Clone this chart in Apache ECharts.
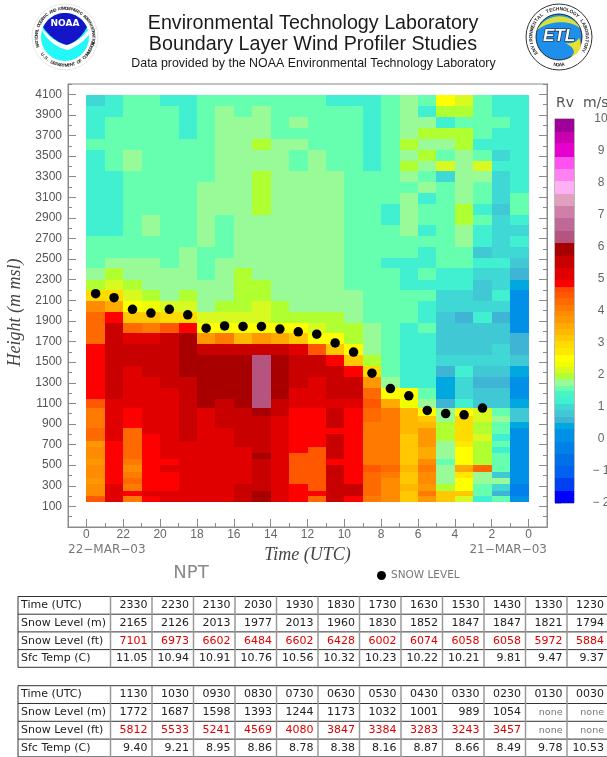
<!DOCTYPE html>
<html>
<head>
<meta charset="utf-8">
<style>html,body{margin:0;padding:0;background:#fff}#c{width:607px;height:757px}</style>
<script src="https://cdn.jsdelivr.net/npm/echarts@6/dist/echarts.min.js"></script>
</head>
<body>
<div id="c"></div>
<script>
// ---- table / snow level data (most recent hour first) ----
const timeUTC = ['2330','2230','2130','2030','1930','1830','1730','1630','1530','1430','1330','1230',
                 '1130','1030','0930','0830','0730','0630','0530','0430','0330','0230','0130','0030'];
const snowLevelM = [2165,2126,2013,1977,2013,1960,1830,1852,1847,1847,1821,1794,
                    1772,1687,1598,1393,1244,1173,1032,1001,989,1054,'none','none'];
const snowLevelFt = [7101,6973,6602,6484,6602,6428,6002,6074,6058,6058,5972,5884,
                     5812,5533,5241,4569,4080,3847,3384,3283,3243,3457,'none','none'];
const sfcTempC = ['11.05','10.94','10.91','10.76','10.56','10.32','10.23','10.22','10.21','9.81','9.47','9.37',
                  '9.40','9.21','8.95','8.86','8.78','8.38','8.16','8.87','8.66','8.49','9.78','10.53'];

// ---- colour scale ----
const rvBounds = [-2,-1.61,-1.22,-0.85,-0.47,-0.08,0.3,0.49,0.7,0.9,1.08,1.3,1.5,1.67,1.88,2.05,2.25,2.42,2.63,2.85,3.05,3.25,3.44,3.63,3.83,4.0,4.2,4.4,4.6,4.76,4.97,5.35,5.73,6.11,6.5,6.9,7.28,7.66,8.06,8.44,8.82,9.24,9.6,10];
const rvColors = ['#0000ff','#0040f0','#0060f0','#0070e8','#0080e8','#0090e8','#00a8e0','#40b4d4','#40c8d4','#40d8d4','#40f0d0','#48f4c4','#66ffb0','#98fb98','#b0ff30','#d8fa20','#f0ff00','#ffff00','#ffe800','#ffdc00','#ffc800','#ffb800','#ffaa00','#ff9800','#ff8c00','#ff7a00','#ff6a00','#ff5800','#ff4a00','#ff0000','#e00000','#c80000','#a80000','#b5547f','#c06898','#d080a8','#e0a0c0','#ffb0f5','#ff80f0','#ff50f0','#e600d0','#c800b0','#a0009a'];

// ---- profiler gates: heights (m msl), edges of each row, top to bottom ----
const gateEdges = [4093,3989,3880,3770,3666,3560,3453,3351,3246,3139,3032,2929,2827,2728,2621,2514,2411,2298,2200,2094,1990,1883,1780,1673,1567,1466,1359,1252,1147,1052,977,919,858,800,730,674,615,560,502,431,373,314,252,201,143];

// ---- radial velocity Rv (m/s), one row per gate, one column per hour ----
const rvRows = [
[1.0,1.2,1.6,1.6,1.2,1.2,1.6,1.6,1.6,1.6,1.6,1.6,1.6,1.2,1.2,1.2,1.6,1.8,1.6,2.5,2.2,1.6,1.2,1.2],
[1.2,1.2,1.6,1.6,1.6,1.2,1.6,1.8,1.6,1.8,1.6,1.6,1.6,1.6,1.6,1.2,1.6,1.8,1.2,2.0,2.0,1.6,1.2,1.2],
[1.2,1.6,1.6,1.6,1.6,1.2,1.6,1.8,1.8,1.8,1.6,1.8,1.6,1.6,1.6,1.2,1.6,1.8,1.8,1.2,1.6,1.6,1.6,1.2],
[1.2,1.6,1.6,1.6,1.6,1.2,1.6,1.8,1.8,1.8,1.6,1.6,1.6,1.6,1.6,1.2,1.6,1.8,2.0,2.0,2.0,1.6,1.2,1.2],
[1.6,1.6,1.6,1.6,1.6,1.6,1.6,1.8,1.8,2.0,1.8,1.8,1.6,1.6,1.6,1.2,1.6,2.0,1.8,1.8,2.0,1.2,1.2,1.2],
[1.2,1.6,1.8,1.6,1.6,1.6,1.6,1.8,1.8,1.8,1.8,1.6,1.8,1.6,1.6,1.2,1.6,1.8,2.0,1.6,1.8,1.6,1.0,1.2],
[1.2,1.6,1.8,1.6,1.6,1.6,1.6,1.8,1.8,1.8,1.8,1.6,1.8,1.6,1.6,1.2,1.6,2.0,1.8,2.2,1.8,2.2,1.2,1.2],
[1.2,1.2,1.6,1.6,1.6,1.6,1.6,1.8,1.8,2.0,1.8,1.8,1.8,1.8,1.6,1.6,1.6,1.8,1.6,1.0,1.8,1.8,1.0,1.2],
[1.2,1.2,1.6,1.6,1.6,1.6,1.8,1.8,1.8,2.0,1.8,1.8,1.8,1.8,1.6,1.6,1.6,1.6,1.8,1.6,1.8,1.6,1.0,1.2],
[1.2,1.2,1.6,1.6,1.6,1.6,1.8,1.8,1.8,2.0,1.8,1.8,1.8,1.8,1.6,1.6,1.6,1.8,1.2,1.6,1.8,1.6,1.0,1.6],
[1.2,1.2,1.6,1.6,1.6,1.6,1.8,1.8,1.8,2.0,1.8,1.8,1.8,1.8,1.6,1.6,1.2,1.8,1.6,1.6,2.0,1.2,0.8,1.6],
[1.2,1.2,1.6,1.8,1.6,1.6,1.8,1.6,1.8,1.8,1.8,1.8,1.8,1.8,1.6,1.6,1.2,1.8,1.6,1.6,2.0,1.6,1.0,1.2],
[1.2,1.2,1.6,1.8,1.6,1.6,1.8,1.6,1.8,1.8,1.8,1.8,1.8,1.8,1.6,1.6,1.6,1.8,1.2,1.6,1.8,1.2,1.0,1.0],
[1.6,1.6,1.6,1.6,1.6,1.6,1.8,1.6,1.8,1.8,1.8,1.8,1.8,1.8,1.6,1.6,1.6,1.6,1.6,1.6,1.8,1.2,1.0,1.2],
[1.6,1.6,1.6,1.6,1.6,1.8,1.6,1.6,1.8,1.8,1.8,1.8,1.8,1.8,1.6,1.6,1.6,1.6,1.2,1.6,1.6,0.8,1.0,1.0],
[1.6,1.8,1.8,1.8,1.6,1.8,1.6,1.8,1.8,1.8,1.8,1.8,1.8,1.8,1.6,1.6,1.2,1.2,1.2,1.6,1.6,1.2,1.2,0.8],
[1.8,2.0,1.8,1.8,1.8,1.8,1.6,1.8,2.0,1.8,1.8,1.8,1.8,1.8,1.6,1.6,1.6,1.2,1.6,1.2,1.2,1.0,1.0,0.6],
[2.0,2.2,2.0,1.8,1.8,1.8,1.8,1.8,2.0,2.0,1.8,1.8,1.8,1.8,1.6,1.6,1.6,1.2,1.2,1.2,1.2,0.8,1.0,0.4],
[3.0,3.0,2.2,2.0,1.8,2.0,1.8,1.8,2.0,2.0,1.8,1.8,1.8,1.8,1.8,1.6,1.6,1.6,1.6,1.0,1.0,0.8,1.2,0.1],
[3.9,3.5,2.5,2.3,2.2,2.2,1.8,2.0,2.0,2.2,2.0,1.8,1.8,1.8,1.8,1.6,1.6,1.6,1.2,1.0,1.0,1.0,1.0,0.1],
[4.3,4.9,3.2,3.2,3.0,3.0,2.2,2.2,2.2,2.2,2.0,2.0,2.0,2.0,1.8,1.6,1.6,1.6,1.2,0.8,0.6,1.2,0.6,0.1],
[4.3,5.5,4.3,4.1,4.5,4.9,2.5,2.5,2.5,2.5,2.5,2.5,2.2,2.0,2.0,1.8,1.6,1.2,1.6,0.8,0.8,0.8,0.8,0.1],
[4.3,5.5,5.2,5.2,5.5,5.9,3.7,4.1,3.4,3.7,3.5,3.2,2.5,2.5,2.0,1.8,1.6,1.2,1.2,0.8,0.8,0.8,0.8,0.6],
[4.9,5.5,5.5,5.5,5.5,5.9,5.5,5.5,5.5,5.5,5.5,5.2,4.5,3.2,2.5,1.8,1.6,1.2,1.2,0.8,0.8,0.8,1.0,0.6],
[4.9,5.5,5.5,5.5,5.5,5.9,5.9,5.9,5.9,6.3,5.9,5.5,5.5,4.9,3.2,2.0,1.6,1.2,1.2,1.0,1.0,1.0,1.0,0.8],
[4.9,5.5,5.2,5.5,5.5,5.9,5.9,5.9,5.9,6.3,5.9,5.5,5.5,5.5,4.9,3.0,1.6,1.2,1.2,0.6,1.2,0.8,0.8,0.4],
[4.9,5.5,5.2,5.2,5.5,5.5,5.9,5.9,5.9,6.3,5.9,5.5,5.2,5.5,5.5,3.7,1.8,1.2,1.2,0.4,1.0,0.6,0.6,0.1],
[4.9,5.5,5.2,5.2,5.2,5.5,5.9,5.9,5.9,6.3,5.9,5.2,5.2,5.5,5.5,4.3,2.5,2.5,1.6,0.4,1.0,0.8,0.8,0.1],
[4.5,5.2,5.2,5.2,5.2,5.5,5.9,5.5,5.9,6.3,5.5,5.2,5.2,5.2,5.2,4.5,3.5,2.3,1.8,0.6,1.2,0.8,0.8,0.4],
[4.1,5.2,4.9,5.2,5.2,5.5,5.2,5.5,5.5,5.9,5.5,4.9,4.9,5.5,4.9,4.3,4.1,3.4,2.5,1.8,2.5,2.2,1.6,0.8],
[4.1,5.2,4.9,5.2,5.2,5.5,5.2,5.5,5.5,5.5,5.2,4.9,4.9,5.5,4.9,4.3,4.1,3.4,3.2,1.8,3.0,2.2,1.8,0.8],
[4.1,5.2,4.9,5.2,5.2,5.5,5.2,5.5,5.5,5.5,5.2,4.9,4.9,5.5,4.9,4.1,4.1,3.4,3.4,2.0,3.0,2.0,1.6,0.4],
[4.3,5.2,4.3,5.2,5.2,5.5,5.2,5.2,5.5,5.5,5.2,4.9,4.9,4.9,4.9,4.1,4.1,3.4,3.7,2.0,3.0,2.0,1.6,0.1],
[4.3,5.2,4.3,4.9,5.2,5.5,5.2,5.2,5.5,5.5,5.2,4.9,4.9,5.5,4.9,4.1,4.1,3.2,3.7,2.0,3.0,2.2,1.2,0.1],
[3.7,4.9,4.3,4.9,5.2,5.2,5.2,5.2,5.5,5.5,5.2,4.9,4.9,5.5,4.9,4.1,4.1,3.2,3.7,1.8,2.7,2.0,1.6,0.1],
[3.9,4.9,4.3,4.9,5.2,5.2,5.2,5.2,5.2,5.5,5.2,4.9,4.5,5.5,4.9,4.1,4.1,3.2,3.5,1.8,2.5,2.0,1.2,0.1],
[3.9,4.9,4.3,4.9,5.2,5.2,5.2,5.2,5.2,5.9,5.2,4.5,4.5,5.5,4.9,4.1,4.1,3.2,3.5,1.8,2.5,2.0,1.6,0.1],
[3.7,4.9,4.1,4.9,4.9,5.2,5.2,5.2,5.2,5.5,5.2,4.5,4.5,4.9,4.9,4.1,4.1,3.2,3.9,1.6,2.5,2.0,1.6,0.1],
[3.9,4.9,3.9,4.9,5.2,5.2,5.2,5.2,5.2,5.5,5.2,4.5,4.5,5.5,4.9,4.5,4.3,3.4,4.1,1.8,3.5,4.3,1.6,0.1],
[3.9,4.9,4.1,4.9,4.9,5.2,5.2,5.2,5.2,5.5,5.2,4.5,4.5,5.5,4.9,4.3,4.1,3.2,3.9,1.8,2.7,1.8,0.8,0.1],
[3.7,4.9,4.3,4.9,4.9,5.2,5.2,5.2,5.2,5.5,5.2,4.5,4.5,5.5,4.9,4.3,3.9,3.2,3.9,1.8,2.5,1.8,1.8,0.1],
[3.9,5.2,4.1,4.9,4.9,5.2,5.2,5.2,5.5,5.5,5.2,4.9,4.5,5.5,5.5,4.3,3.9,3.4,3.7,2.0,2.5,1.6,1.0,-0.3],
[3.9,5.2,4.9,5.2,5.2,5.2,5.2,5.2,5.5,5.9,5.2,4.9,4.9,5.5,5.5,4.3,3.9,3.2,4.1,3.2,3.2,1.6,0.6,-0.3],
[4.5,5.2,4.1,4.9,5.2,5.2,5.2,5.2,5.5,5.9,5.2,4.9,4.3,5.5,4.9,4.1,3.9,3.2,3.7,3.2,2.2,1.2,1.6,0.1]
];

// ---- axis tick labels ----
const heightLabels = [];
for (let h = 100; h <= 4100; h += 200) heightLabels.push(h);
const hourTicks = [0,2,4,6,8,10,12,14,16,18,20,22,24];
const hourLabels = ['0','22','20','18','16','14','12','10','8','6','4','2','0'];
const rvTicks = [-2,-1,0,1,2,3,4,5,6,7,8,9,10];
const tableRowNames = ['Time (UTC)','Snow Level (m)','Snow Level (ft)','Sfc Temp (C)'];

// ---- helpers ----
function rvColor(v){
  for (let i = 0; i < rvColors.length; i++) if (v < rvBounds[i+1]) return rvColors[i];
  return rvColors[rvColors.length-1];
}
const heatData = [];
rvRows.forEach((row,r)=>row.forEach((v,c)=>heatData.push([c,gateEdges[r],gateEdges[r+1],v])));
const snowData = [];
snowLevelM.forEach((m,i)=>{ if (typeof m === 'number') snowData.push([i+0.5,m]); });
const barData = rvColors.map((c,i)=>[rvBounds[i],rvBounds[i+1],c]);

const axisGray='#8a8a8a';
const sans='"Liberation Sans",Arial,sans-serif', dj='"DejaVu Sans",sans-serif', serif='"Liberation Serif",serif';

function yAx(pos,major){
  const a={type:'value',gridIndex:0,min:-100,max:4200,position:pos,interval:100,splitLine:{show:false},
    axisLine:{show:true,onZero:false,lineStyle:{color:axisGray,width:1}},
    axisTick:{show:true,inside:true,length:major?8:4,lineStyle:{color:axisGray}},axisLabel:{show:false}};
  if(major) a.axisTick.customValues=heightLabels;
  return a;
}
function xAx(major){
  const a={type:'value',gridIndex:0,min:-1,max:25,position:'bottom',interval:1,splitLine:{show:false},
    axisLine:{show:true,onZero:false,lineStyle:{color:axisGray,width:1}},
    axisTick:{show:true,inside:true,length:major?8:4,lineStyle:{color:axisGray}},axisLabel:{show:false}};
  if(major) a.axisTick.customValues=hourTicks;
  return a;
}
const y0=yAx('left',true);
y0.axisLabel={show:true,customValues:heightLabels,margin:6,color:'#555',fontFamily:sans,fontSize:12,formatter:v=>String(v)};
y0.name='Height (m msl)'; y0.nameLocation='middle'; y0.nameGap=37; y0.nameRotate=90;
y0.nameTextStyle={fontFamily:serif,fontStyle:'italic',fontSize:18,color:'#444',letterSpacing:1.3,padding:[0,14,0,0]};
const x0=xAx(true);
x0.axisLabel={show:true,customValues:hourTicks,margin:2,color:'#666',fontFamily:sans,fontSize:12,
  formatter:v=>hourLabels[hourTicks.indexOf(v)]};
x0.name='Time (UTC)'; x0.nameLocation='middle'; x0.nameGap=10;
x0.nameTextStyle={fontFamily:serif,fontStyle:'italic',fontSize:18,color:'#444',letterSpacing:2};

// logos
function arcText(str,cx,cy,r,startDeg,stepDeg,bottom,color,size){
  return str.split('').map((ch,i)=>{
    const a=(startDeg+i*stepDeg)*Math.PI/180;
    const rot=bottom?-(a-Math.PI):-a;
    return {type:'text',x:cx+r*Math.sin(a),y:cy-r*Math.cos(a),rotation:rot,silent:true,
      style:{text:ch,fill:color,font:'bold '+size+'px '+sans,textAlign:'center',textVerticalAlign:'middle'}};
  });
}
// sample a chain of cubic curves [p0, c1, c2, p1, c1, c2, p2 ...] into polygon points
function curve(pts){
  const out=[pts[0]];
  for(let i=0;i+3<pts.length;i+=3){
    for(let k=1;k<=12;k++){
      const t=k/12,u=1-t,p=[0,1].map(d=>u*u*u*pts[i][d]+3*u*u*t*pts[i+1][d]+3*u*t*t*pts[i+2][d]+t*t*t*pts[i+3][d]);
      out.push(p);
    }
  }
  return out;
}
function circleArc(cx,cy,r,fromDeg,toDeg){
  const out=[];
  for(let k=0;k<=30;k++){const a=(fromDeg+(toDeg-fromDeg)*k/30)*Math.PI/180;out.push([cx+r*Math.sin(a),cy-r*Math.cos(a)]);}
  return out;
}
const g=[];
// title
[['Environmental Technology Laboratory',313,23.5,19.7],['Boundary Layer Wind Profiler Studies',313,44.5,19.7],
 ['Data provided by the NOAA Environmental Technology Laboratory',313.5,64,12.4]].forEach(t=>{
  g.push({type:'text',x:t[1],y:t[2],style:{text:t[0],fill:'#1a1a1a',font:t[3]+'px '+sans,textAlign:'center',textVerticalAlign:'middle'}});
});
// NOAA logo
g.push({type:'circle',shape:{cx:65,cy:37,r:33},style:{fill:'#fff',stroke:'#e8e8e8'}});
g.push({type:'circle',shape:{cx:65,cy:37,r:24},style:{fill:'#22f8f8'}});
g.push({type:'polygon',shape:{points:circleArc(65,37,24,-64,64).concat(curve([[87,27],[82,37],[74,43],[67,45],[58,43],[49,36],[43,27]]))},style:{fill:'#1414c8'}});
g.push({type:'polygon',shape:{points:curve([[41,28],[50,37],[58,44],[67,45],[75,43],[83,37],[89,29],[90,31],[90,32],[90,33],[84,42],[76,47],[68,50],[57,48],[46,40],[41,28]])},style:{fill:'#ffffff'}});
g.push({type:'text',x:65,y:24,style:{text:'NOAA',fill:'#fff',font:'bold 9px '+dj,textAlign:'center',textVerticalAlign:'middle'}});
g.push(...arcText('NATIONAL OCEANIC AND ATMOSPHERIC ADMINISTRATION',65,37,28.5,-108,4.6,false,'#222',4.4));
g.push(...arcText('U.S. DEPARTMENT OF COMMERCE',65,37,28.5,232,-5,true,'#222',4.4));
// ETL logo
g.push({type:'circle',shape:{cx:559,cy:37,r:33},style:{fill:'#fff',stroke:'#333',lineWidth:1}});
g.push({type:'circle',shape:{cx:559,cy:37,r:23},style:{fill:'#1e8fea',stroke:'#222',lineWidth:1}});
g.push({type:'polygon',shape:{points:curve([[537,30],[546,12],[572,12],[580,28],[570,20],[550,20],[537,30]])},style:{fill:'#d8e040'}});
g.push({type:'polygon',shape:{points:curve([[565,43],[574,47],[577,53],[570,57],[580,54],[583,46],[579,38],[576,43],[570,44],[565,43]])},style:{fill:'#e8e030'}});
g.push({type:'text',x:559,y:36,style:{text:'ETL',fill:'#fff',stroke:'#223',lineWidth:1.2,font:'italic bold 17px '+sans,textAlign:'center',textVerticalAlign:'middle'}});
g.push(...arcText('ENVIRONMENTAL TECHNOLOGY LABORATORY',559,37,28,-125,7.2,false,'#222',4.8));
g.push(...arcText('NOAA',559,37,28,188,-5.5,true,'#222',4.8));
// labels
g.push({type:'text',x:556,y:103,style:{text:'Rv  m/s',fill:'#555',font:'14px '+dj,textAlign:'left',textVerticalAlign:'middle'}});
g.push({type:'text',x:68,y:550,style:{text:'22\u2212MAR\u221203',fill:'#777',font:'12px '+dj,textAlign:'left',textVerticalAlign:'middle'}});
g.push({type:'text',x:547,y:550,style:{text:'21\u2212MAR\u221203',fill:'#777',font:'12px '+dj,textAlign:'right',textVerticalAlign:'middle'}});
g.push({type:'text',x:191,y:573,style:{text:'NPT',fill:'#8a8a8a',font:'18px '+dj,textAlign:'center',textVerticalAlign:'middle'}});
// tables
const colEdges=[18,110.5,152,193.5,235,276.5,318,359.5,401,442.5,484,525.5,567];
function table(top,rowH,start){
  const bottom=top+rowH*4;
  for(let r=0;r<=4;r++) g.push({type:'line',shape:{x1:18,y1:top+r*rowH,x2:607,y2:top+r*rowH},style:{stroke:'#333',lineWidth:1}});
  colEdges.forEach((x,i)=>g.push({type:'line',shape:{x1:x,y1:top,x2:x,y2:bottom},style:{stroke:i===0?'#333':'#999',lineWidth:i===0?1:1.5}}));
  tableRowNames.forEach((n,r)=>g.push({type:'text',x:21,y:top+(r+0.5)*rowH,style:{text:n,fill:'#222',font:'11px '+dj,textAlign:'left',textVerticalAlign:'middle'}}));
  const cols=[timeUTC,snowLevelM,snowLevelFt,sfcTempC];
  for(let c=0;c<12;c++) cols.forEach((arr,r)=>{
    const v=String(arr[start+c]); const none=v==='none';
    g.push({type:'text',x:colEdges[c+1]+37,y:top+(r+0.5)*rowH,style:{text:v,fill:none?'#777':(r===2?'#e00000':'#222'),font:(none?'9.5':'11')+'px '+dj,textAlign:'right',textVerticalAlign:'middle'}});
  });
}
table(596.5,17.7,0);
table(685.7,17.8,12);

const option={
  animation:false,
  backgroundColor:'#fff',
  grid:[{left:68,top:84,width:479,height:443,show:true,borderColor:axisGray,borderWidth:1,backgroundColor:'transparent',outerBoundsMode:'none'},
        {left:555,top:119,width:19,height:384,show:true,borderColor:'#777',borderWidth:1,backgroundColor:'transparent',outerBoundsMode:'none'}],
  xAxis:[x0,xAx(false),{type:'value',gridIndex:1,min:0,max:1,show:false}],
  yAxis:[y0,yAx('left',false),yAx('right',true),yAx('right',false),
    {type:'value',gridIndex:1,min:-2,max:10,interval:1,position:'right',splitLine:{show:false},
     axisLine:{show:false},axisTick:{show:true,length:6,lineStyle:{color:axisGray}},
     axisLabel:{customValues:rvTicks,margin:27,align:'center',color:'#666',fontFamily:sans,fontSize:12,formatter:v=>String(v).replace('-','\u2212 ')}}],
  legend:{show:true,left:372,top:565,itemWidth:9,itemHeight:9,itemGap:5,data:[{name:'SNOW LEVEL',icon:'circle'}],
    textStyle:{color:'#777',fontFamily:dj,fontSize:10.5,letterSpacing:0.6}},
  graphic:{elements:g},
  series:[
    {type:'custom',name:'Rv',xAxisIndex:0,yAxisIndex:0,data:heatData,encode:{x:0,y:[1,2]},z:2,silent:true,
     renderItem:(p,api)=>{
       const c=api.value(0),t=api.coord([c,api.value(1)]),b=api.coord([c+1,api.value(2)]);
       const x0=Math.round(t[0]),y0=Math.round(t[1]),x1=Math.round(b[0]),y1=Math.round(b[1]);
       return {type:'rect',shape:{x:x0,y:y0,width:x1-x0,height:y1-y0},style:{fill:rvColor(api.value(3))}};
     }},
    {type:'scatter',name:'SNOW LEVEL',xAxisIndex:0,yAxisIndex:0,data:snowData,symbol:'circle',symbolSize:9.5,z:5,
     itemStyle:{color:'#000',opacity:1}},
    {type:'custom',name:'bar',xAxisIndex:2,yAxisIndex:4,data:barData,encode:{y:[0,1]},z:2,silent:true,
     renderItem:(p,api)=>{
       const a=api.coord([0,api.value(0)]),b=api.coord([1,api.value(1)]);
       const col=barData[p.dataIndex][2];
       const yt=Math.round(b[1]),yb=Math.round(a[1]);
       return {type:'rect',shape:{x:a[0],y:yt,width:b[0]-a[0],height:yb-yt},style:{fill:col}};
     }}
  ]
};
echarts.init(document.getElementById('c'),null,{renderer:'canvas'}).setOption(option);
</script>
</body>
</html>
